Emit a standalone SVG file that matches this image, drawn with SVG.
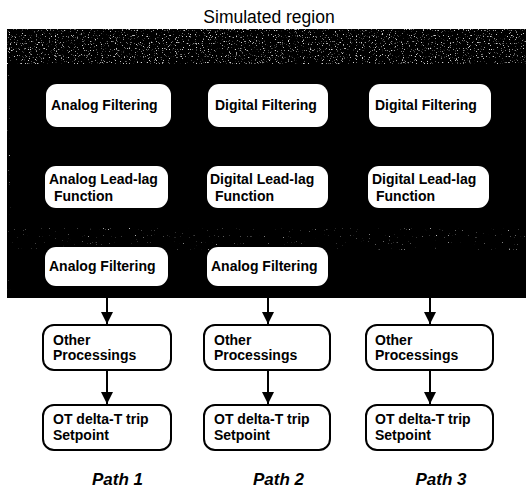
<svg xmlns="http://www.w3.org/2000/svg" width="526" height="489" viewBox="0 0 526 489">
<style>
.t{font-family:"Liberation Sans",Arial,sans-serif;font-weight:bold;font-size:14px;fill:#000}
.title{font-family:"Liberation Sans",Arial,sans-serif;font-size:17.5px;fill:#000}
.path{font-family:"Liberation Sans",Arial,sans-serif;font-weight:bold;font-style:italic;font-size:17px;fill:#000}
.inner{fill:#fff}
.outer{fill:#fff;stroke:#000;stroke-width:2}
.c{stroke:#000;stroke-width:2;fill:none}
</style>
<defs>
<filter id="speck" x="0" y="0" width="100%" height="100%">
<feTurbulence type="fractalNoise" baseFrequency="0.85" numOctaves="1" seed="7"/>
<feColorMatrix type="matrix" values="0 0 0 0 0.65  0 0 0 0 0.65  0 0 0 0 0.65  9 0 0 0 -5.5"/>
</filter>
<filter id="speck2" x="0" y="0" width="100%" height="100%">
<feTurbulence type="fractalNoise" baseFrequency="0.85" numOctaves="1" seed="11"/>
<feColorMatrix type="matrix" values="0 0 0 0 0.5  0 0 0 0 0.5  0 0 0 0 0.5  9 0 0 0 -6.4"/>
</filter>
<marker id="ah" markerWidth="12" markerHeight="12" viewBox="0 0 12 12" refX="12" refY="6" orient="auto" markerUnits="userSpaceOnUse">
<path d="M0,0 L12,6 L0,12 Z" fill="#000"/>
</marker>
</defs>

<text class="title" x="269" y="23" text-anchor="middle">Simulated region</text>

<g id="simulated-region">
<rect x="7" y="29" width="519" height="269" fill="#000"/>
<rect x="7" y="29" width="519" height="35" filter="url(#speck)"/>
<rect x="7" y="228" width="519" height="22" filter="url(#speck2)"/>
<rect x="7" y="64" width="4" height="234" filter="url(#speck2)"/>
</g>

<g id="connectors">
<line class="c" x1="107" y1="298" x2="107" y2="324" marker-end="url(#ah)"/>
<line class="c" x1="268" y1="298" x2="268" y2="324" marker-end="url(#ah)"/>
<line class="c" x1="430" y1="298" x2="430" y2="324" marker-end="url(#ah)"/>
<line class="c" x1="107" y1="370" x2="107" y2="404" marker-end="url(#ah)"/>
<line class="c" x1="268" y1="370" x2="268" y2="404" marker-end="url(#ah)"/>
<line class="c" x1="430" y1="370" x2="430" y2="404" marker-end="url(#ah)"/>
</g>

<g id="p1-analog-filtering">
<rect class="inner" x="46" y="84" width="125" height="43" rx="11"/>
<text class="t" x="51" y="110">Analog Filtering</text>
</g>
<g id="p2-digital-filtering">
<rect class="inner" x="208" y="84" width="120" height="43" rx="11"/>
<text class="t" x="215" y="110">Digital Filtering</text>
</g>
<g id="p3-digital-filtering">
<rect class="inner" x="369" y="84" width="122" height="43" rx="11"/>
<text class="t" x="375" y="110">Digital Filtering</text>
</g>

<g id="p1-analog-leadlag">
<rect class="inner" x="45" y="166" width="123" height="42" rx="11"/>
<text class="t" x="49" y="184">Analog Lead-lag</text>
<text class="t" x="54" y="201">Function</text>
</g>
<g id="p2-digital-leadlag">
<rect class="inner" x="207" y="166" width="121" height="42" rx="11"/>
<text class="t" x="210" y="184">Digital Lead-lag</text>
<text class="t" x="215" y="201">Function</text>
</g>
<g id="p3-digital-leadlag">
<rect class="inner" x="368" y="166" width="121" height="42" rx="11"/>
<text class="t" x="372" y="184">Digital Lead-lag</text>
<text class="t" x="376" y="201">Function</text>
</g>

<g id="p1-analog-filtering-2">
<rect class="inner" x="45" y="247" width="123" height="39" rx="11"/>
<text class="t" x="49" y="271">Analog Filtering</text>
</g>
<g id="p2-analog-filtering-2">
<rect class="inner" x="207" y="247" width="121" height="39" rx="11"/>
<text class="t" x="211" y="271">Analog Filtering</text>
</g>

<g id="p1-other">
<rect class="outer" x="43" y="325" width="128" height="45" rx="11"/>
<text class="t" x="53" y="345">Other</text>
<text class="t" x="53" y="360">Processings</text>
</g>
<g id="p2-other">
<rect class="outer" x="204" y="325" width="126" height="45" rx="11"/>
<text class="t" x="214" y="345">Other</text>
<text class="t" x="214" y="360">Processings</text>
</g>
<g id="p3-other">
<rect class="outer" x="366" y="325" width="127" height="45" rx="11"/>
<text class="t" x="375" y="345">Other</text>
<text class="t" x="375" y="360">Processings</text>
</g>

<g id="p1-setpoint">
<rect class="outer" x="43" y="405" width="128" height="45" rx="11"/>
<text class="t" x="53" y="424">OT delta-T trip</text>
<text class="t" x="53" y="440">Setpoint</text>
</g>
<g id="p2-setpoint">
<rect class="outer" x="204" y="405" width="126" height="45" rx="11"/>
<text class="t" x="214" y="424">OT delta-T trip</text>
<text class="t" x="214" y="440">Setpoint</text>
</g>
<g id="p3-setpoint">
<rect class="outer" x="366" y="405" width="127" height="45" rx="11"/>
<text class="t" x="375" y="424">OT delta-T trip</text>
<text class="t" x="375" y="440">Setpoint</text>
</g>

<text class="path" x="117.5" y="485" text-anchor="middle">Path 1</text>
<text class="path" x="278.5" y="485" text-anchor="middle">Path 2</text>
<text class="path" x="441" y="485" text-anchor="middle">Path 3</text>
</svg>
